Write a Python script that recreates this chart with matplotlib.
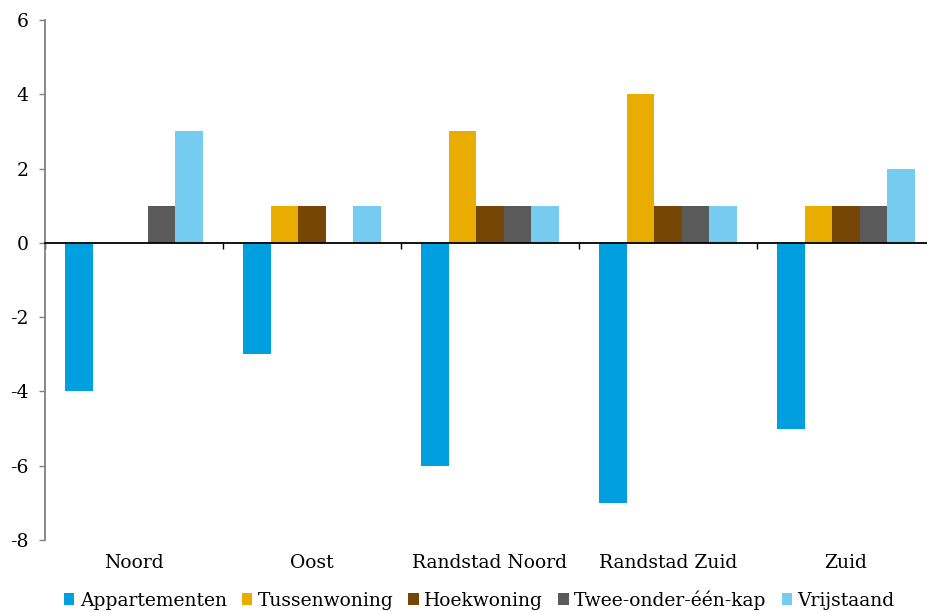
import numpy as np
import matplotlib.pyplot as plt
from matplotlib.transforms import blended_transform_factory

plt.rcParams['font.family'] = 'DejaVu Serif'

regions = ['Noord', 'Oost', 'Randstad Noord', 'Randstad Zuid', 'Zuid']
types = ['Appartementen', 'Tussenwoning', 'Hoekwoning', 'Twee-onder-één-kap', 'Vrijstaand']
appartementen = [-4, -3, -6, -7, -5]
tussenwoning = [0, 1, 3, 4, 1]
hoekwoning = [0, 1, 1, 1, 1]
twee_onder_een_kap = [1, 0, 1, 1, 1]
vrijstaand = [3, 1, 1, 1, 2]
series = [appartementen, tussenwoning, hoekwoning, twee_onder_een_kap, vrijstaand]
colors = ['#009fe0', '#e8ad00', '#764607', '#5a5a5a', '#75ccf0']

fs = 13.5

fig = plt.figure(figsize=(9.27, 6.12), dpi=100)
ax = fig.add_axes([45 / 927, 72 / 612, 890 / 927, 520 / 612])

x = np.arange(len(regions))
w = 0.154
for i, (vals, col, lab) in enumerate(zip(series, colors, types)):
    ax.bar(x + (i - 2) * w, vals, width=w, color=col, label=lab)

ax.set_xlim(-0.5, len(regions) - 0.5)
ax.set_ylim(-8, 6)
ax.set_yticks(range(-8, 7, 2))
ax.set_yticklabels([str(v) for v in range(-8, 7, 2)])

# x axis at zero, ticks at group boundaries
ax.spines['bottom'].set_position(('data', 0))
ax.spines['bottom'].set_color('black')
ax.spines['bottom'].set_linewidth(1.3)
ax.spines['left'].set_color('#808080')
ax.spines['left'].set_linewidth(1.3)
ax.spines['top'].set_visible(False)
ax.spines['right'].set_visible(False)
ax.set_xticks(np.arange(-0.5, len(regions), 1.0))
ax.set_xticklabels([])
ax.tick_params(axis='x', length=4, width=1, color='black')
ax.tick_params(axis='y', length=4, width=1, color='#808080', labelsize=fs, pad=8)

trans = blended_transform_factory(ax.transData, ax.transAxes)
for xi, name in zip(x, regions):
    ax.text(xi, -0.044, name, transform=trans, ha='center', va='center', fontsize=fs)

fig.legend(loc='center', bbox_to_anchor=(0.517, 12 / 612), ncol=5, frameon=False,
           fontsize=fs, handlelength=0.55, handleheight=0.55, handletextpad=0.3, columnspacing=0.8,
           borderaxespad=0)

fig.savefig('out.png', dpi=100)
